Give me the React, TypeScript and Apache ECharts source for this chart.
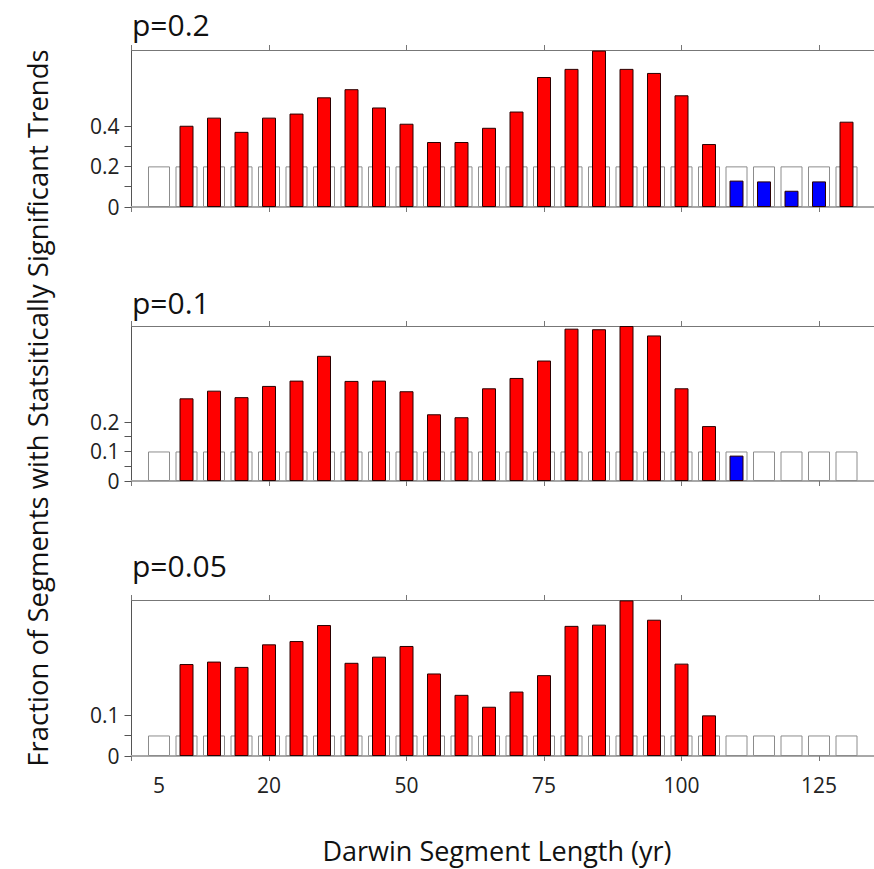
import React, { useEffect, useRef } from "react";
import * as echarts from "echarts";

// ---- data ----
const segmentLengths = [5, 10, 15, 20, 25, 30, 35, 40, 45, 50, 55, 60, 65, 70, 75, 80, 85, 90, 95, 100, 105, 110, 115, 120, 125, 130];

const fracP020 = [null, 0.40, 0.44, 0.37, 0.44, 0.46, 0.54, 0.58, 0.49, 0.41, 0.32, 0.32, 0.39, 0.47, 0.64, 0.68, 0.77, 0.68, 0.66, 0.55, 0.31, 0.13, 0.126, 0.08, 0.126, 0.42];
const fracP010 = [null, 0.28, 0.306, 0.284, 0.322, 0.34, 0.424, 0.339, 0.34, 0.304, 0.226, 0.216, 0.314, 0.349, 0.408, 0.516, 0.514, 0.525, 0.493, 0.314, 0.186, 0.086, null, null, null, null];
const fracP005 = [null, 0.224, 0.23, 0.217, 0.272, 0.28, 0.319, 0.227, 0.242, 0.268, 0.201, 0.149, 0.12, 0.157, 0.197, 0.317, 0.32, 0.379, 0.332, 0.225, 0.099, null, null, null, null, null];

const pLevels = [0.2, 0.1, 0.05];
const panelTitles = ["p=0.2", "p=0.1", "p=0.05"];

const xTickValues = [0, 25, 50, 75, 100, 125];
const xLabelValues = [5, 25, 50, 75, 100, 125];
const xLabelTexts = ["5", "20", "50", "75", "100", "125"];

const yTicks = [
  [0, 0.1, 0.2, 0.3, 0.4],
  [0, 0.05, 0.1, 0.15, 0.2],
  [0, 0.05, 0.1],
];
const yLabels = [
  [0, 0.2, 0.4],
  [0, 0.1, 0.2],
  [0, 0.1],
];
const yMax = [0.773, 0.525, 0.38];

const xAxisTitle = "Darwin Segment Length (yr)";
const yAxisTitle = "Fraction of Segments with Statsitically Significant Trends";

// ---- layout ----
const FONT = "'Open Sans', sans-serif";
const panelTops = [50, 326, 600];
const panelHeights = [157, 155, 156];
const gridLeft = 131.5;
const gridWidth = 745;
const xMax = 135;

export default function App() {
  const ref = useRef<HTMLDivElement>(null);

  useEffect(() => {
    if (!ref.current) return;
    const chart = echarts.init(ref.current, null, { renderer: "svg" });
    const fracs = [fracP020, fracP010, fracP005];

    const grid = panelTops.map((top, i) => ({
      left: gridLeft,
      width: gridWidth,
      top,
      height: panelHeights[i],
      containLabel: false,
    }));

    const xAxis: any[] = [];
    const yAxis: any[] = [];
    const series: any[] = [];

    panelTops.forEach((_, i) => {
      xAxis.push({
        type: "value",
        gridIndex: i,
        position: "bottom",
        min: 0,
        max: xMax,
        axisLine: { show: true, onZero: false, lineStyle: { color: "#a8a8a8", width: 2 } },
        axisTick: { show: true, inside: false, length: 5, customValues: xTickValues, lineStyle: { color: "#777" } },
        axisLabel: {
          show: i === 2,
          customValues: xLabelValues,
          formatter: (v: number) => xLabelTexts[xLabelValues.indexOf(v)] ?? "",
          fontFamily: FONT,
          fontSize: 21,
          color: "#222",
          margin: 18,
        },
        splitLine: { show: false },
      });
      xAxis.push({
        type: "value",
        gridIndex: i,
        position: "top",
        min: 0,
        max: xMax,
        axisLine: { show: true, onZero: false, lineStyle: { color: "#777", width: 1 } },
        axisTick: { show: true, inside: false, length: 5, customValues: xTickValues, lineStyle: { color: "#777" } },
        axisLabel: { show: false },
        splitLine: { show: false },
      });
      yAxis.push({
        type: "value",
        gridIndex: i,
        min: 0,
        max: yMax[i],
        axisLine: { show: true, onZero: false, lineStyle: { color: "#555", width: 1 } },
        axisTick: { show: true, inside: false, length: 7, customValues: yTicks[i], lineStyle: { color: "#555" } },
        axisLabel: {
          customValues: yLabels[i],
          formatter: (v: number) => String(v),
          fontFamily: FONT,
          fontSize: 21,
          color: "#222",
          margin: 12,
        },
        splitLine: { show: false },
      });

      const p = pLevels[i];
      series.push({
        type: "bar",
        xAxisIndex: 2 * i,
        yAxisIndex: i,
        barWidth: 22,
        silent: true,
        z: 2,
        itemStyle: { color: "#ffffff", borderColor: "#8c8c8c", borderWidth: 1 },
        data: segmentLengths.map((x) => [x, p]),
      });
      series.push({
        type: "bar",
        xAxisIndex: 2 * i + 1,
        yAxisIndex: i,
        barWidth: 14,
        z: 3,
        itemStyle: { borderColor: "#2a0000", borderWidth: 1 },
        data: segmentLengths
          .map((x, k) => ({ x, v: fracs[i][k] }))
          .filter((d) => d.v !== null)
          .map((d) => ({
            value: [d.x, d.v],
            itemStyle: { color: (d.v as number) < p ? "#0000ff" : "#ff0000" },
          })),
      });
    });

    const titleY = [24, 302, 565];
    const graphic: any[] = panelTitles.map((t, i) => ({
      type: "text",
      x: 132,
      y: titleY[i],
      style: { text: t, font: `30px ${FONT}`, fill: "#111", align: "left", verticalAlign: "middle" },
    }));
    graphic.push({
      type: "text",
      x: 497,
      y: 850,
      style: { text: xAxisTitle, font: `27px ${FONT}`, fill: "#111", align: "center", verticalAlign: "middle" },
    });
    graphic.push({
      type: "text",
      x: 37,
      y: 408,
      rotation: Math.PI / 2,
      style: { text: yAxisTitle, font: `27.5px ${FONT}`, fill: "#111", align: "center", verticalAlign: "middle" },
    });

    chart.setOption({
      animation: false,
      backgroundColor: "#ffffff",
      textStyle: { fontFamily: FONT },
      grid,
      xAxis,
      yAxis,
      series,
      graphic,
    });

    return () => chart.dispose();
  }, []);

  return (
    <div
      ref={ref}
      style={{ position: "absolute", left: 0, top: 0, width: 874, height: 869 }}
    />
  );
}
